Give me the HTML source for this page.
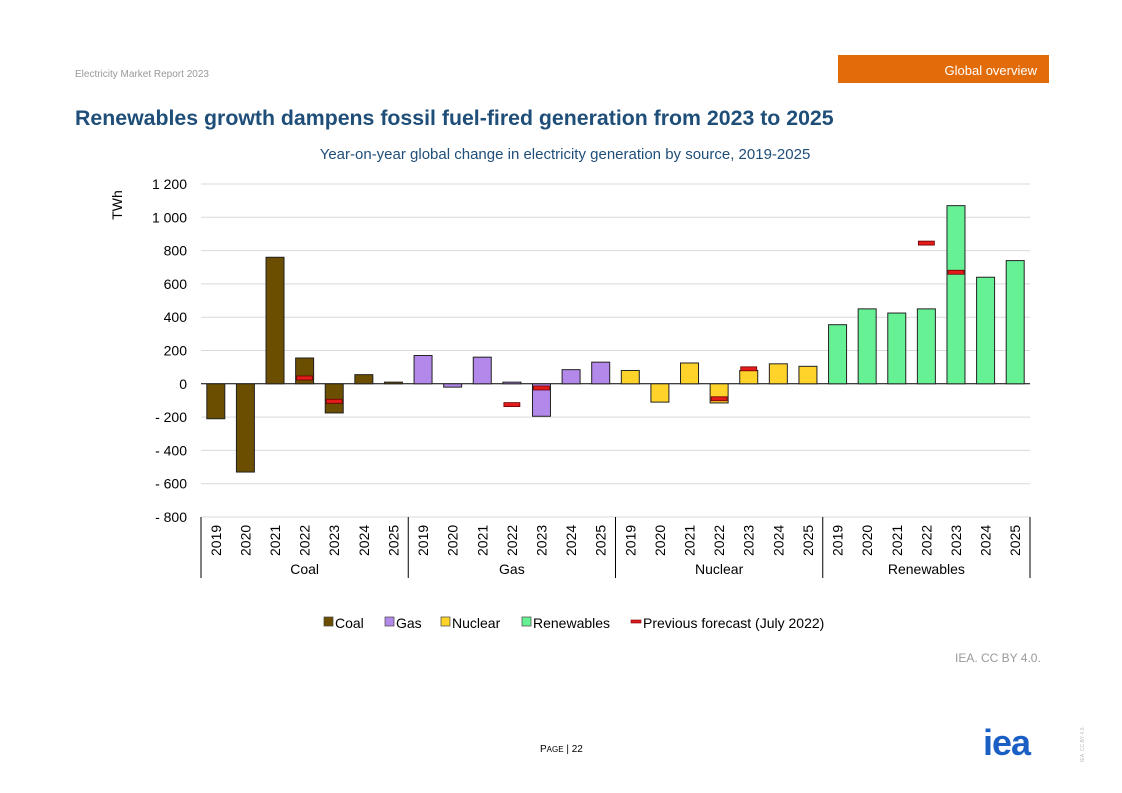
<!DOCTYPE html>
<html><head><meta charset="utf-8"><style>
body{margin:0;width:1122px;height:793px;background:#fff;font-family:"Liberation Sans",sans-serif;position:relative;overflow:hidden}
.abs{position:absolute}
</style></head><body>
<div class="abs" style="left:75px;top:69px;font-size:10px;color:#999">Electricity Market Report 2023</div>
<div class="abs" style="left:838px;top:55px;width:211px;height:28px;background:#e36c0a;color:#fff;font-size:13px;text-align:right;box-sizing:border-box;padding:8px 12px 0 0">Global overview</div>
<div class="abs" style="left:75px;top:106px;font-size:21.3px;font-weight:bold;color:#1f4e79">Renewables growth dampens fossil fuel-fired generation from 2023 to 2025</div>
<div class="abs" style="left:0;width:1122px;text-align:center;top:146px;font-size:15px;color:#1f4e79;padding-left:4px">Year-on-year global change in electricity generation by source, 2019-2025</div>
<svg class="abs" style="left:0;top:0" width="1122" height="793" id="chart"></svg>
<div class="abs" style="left:955px;top:651px;font-size:12px;color:#999">IEA. CC BY 4.0.</div>
<div class="abs" style="left:540px;top:744px;font-size:10px;color:#000">P<span style="font-size:8px">AGE</span> | 22</div>
<div class="abs" style="left:983px;top:722px;font-size:36px;font-weight:bold;color:#1a5fc4;letter-spacing:-1px">iea</div>
<div class="abs" style="left:1080px;font-size:5px;color:#bbb;transform:rotate(-90deg);transform-origin:left top;top:762px">IEA. CC BY 4.0.</div>
<script>
const groups=["Coal","Gas","Nuclear","Renewables"];
const years=["2019","2020","2021","2022","2023","2024","2025"];
const coal=[-210,-530,760,155,-175,55,10];
const gas=[170,-20,160,10,-195,85,130];
const nuclear=[80,-110,125,-115,80,120,105];
const renewables=[355,450,425,450,1070,640,740];
const forecast=[[null,null,null,35,-105,null,null],[null,null,null,-125,-25,null,null],[null,null,null,-90,90,null,null],[null,null,null,845,670,null,null]];
const yTicks=[1200,1000,800,600,400,200,0,-200,-400,-600,-800];
const yTickLabels=["1 200","1 000","800","600","400","200","0","- 200","- 400","- 600","- 800"];
const colors=["#6b4e00","#b388eb","#ffd32a","#66f294"];
const series=[coal,gas,nuclear,renewables];
const svg=document.getElementById('chart');const NS="http://www.w3.org/2000/svg";
function el(t,a,p){const e=document.createElementNS(NS,t);for(const k in a)e.setAttribute(k,a[k]);(p||svg).appendChild(e);return e;}
const x0=201,x1=1030,yTop=184,yBot=517,vmax=1200,vmin=-800;
const y=v=>yTop+(vmax-v)/(vmax-vmin)*(yBot-yTop);
const step=(x1-x0)/28;const xc=i=>x0+step*(i+0.5);
yTicks.forEach((t,i)=>{
 const g=el('line',{x1:x0,x2:x1,y1:y(t),y2:y(t),stroke:t===0?'#000':'#d9d9d9','stroke-width':1});
 
 const tx=el('text',{x:187,y:y(t)+5,'text-anchor':'end','font-size':14,fill:'#000'});tx.textContent=yTickLabels[i];
 
});
const yt=el('text',{x:0,y:0,'font-size':14,transform:'translate(122,205) rotate(-90)','text-anchor':'middle'});yt.textContent='TWh';

series.forEach((s,g)=>{s.forEach((v,j)=>{const i=g*7+j;const cx=xc(i);
 const r=el('rect',{x:cx-9,y:Math.min(y(v),y(0)),width:18,height:Math.abs(y(v)-y(0)),fill:colors[g],stroke:'#222','stroke-width':1});
 
 const f=forecast[g][j];if(f!==null){const m=el('rect',{x:cx-8,y:y(f)-2,width:16,height:4,fill:'#e31b1b',stroke:'#6b0000','stroke-width':0.8});
 }
 const lt=el('text',{x:0,y:0,'font-size':14,transform:`translate(${cx+5},${556}) rotate(-90)`});lt.textContent=years[j];
 
});
 const gl=el('text',{x:x0+step*(g*7+3.5),y:574,'font-size':14,'text-anchor':'middle'});gl.textContent=groups[g];
 
});
for(let k=0;k<=4;k++){const xx=x0+step*7*k;const l=el('line',{x1:xx,x2:xx,y1:517,y2:578,stroke:'#000'});
 }
const legend=[["Coal",colors[0],324],["Gas",colors[1],385],["Nuclear",colors[2],441],["Renewables",colors[3],522]];
legend.forEach(L=>{const r=el('rect',{x:L[2],y:617,width:9,height:9,fill:L[1],stroke:'#444','stroke-width':0.7});
 
 const t=el('text',{x:L[2]+11,y:628,'font-size':14});t.textContent=L[0];
 });
const fm=el('rect',{x:631,y:620,width:10,height:3,fill:'#e31b1b',stroke:'#6b0000','stroke-width':0.6});

const ft=el('text',{x:643,y:628,'font-size':14});ft.textContent='Previous forecast (July 2022)';

</script>
</body></html>
